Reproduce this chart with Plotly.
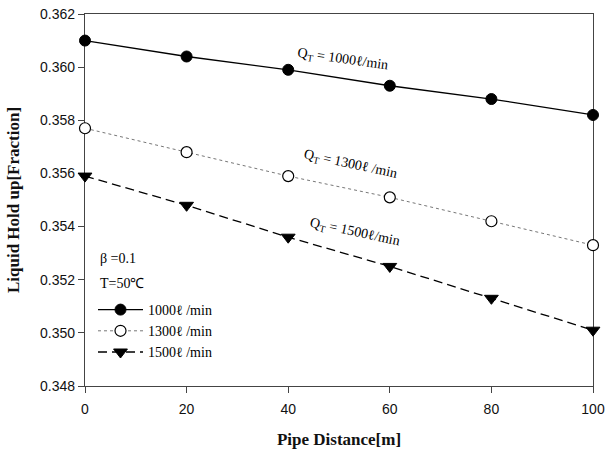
import plotly.graph_objects as go

distance = [0, 20, 40, 60, 80, 100]
hold_1000 = [0.3610, 0.3604, 0.3599, 0.3593, 0.3588, 0.3582]
hold_1300 = [0.3577, 0.3568, 0.3559, 0.3551, 0.3542, 0.3533]
hold_1500 = [0.3559, 0.3548, 0.3536, 0.3525, 0.3513, 0.3501]
names = ["1000ℓ /min", "1300ℓ /min", "1500ℓ /min"]
y_ticks = [0.348, 0.350, 0.352, 0.354, 0.356, 0.358, 0.360, 0.362]
x_ticks = [0, 20, 40, 60, 80, 100]

SERIF = "Liberation Serif"
SANS = "Liberation Sans, Arial"

fig = go.Figure()
fig.add_trace(go.Scatter(
    x=distance, y=hold_1000, name=names[0], mode="lines+markers",
    line=dict(color="black", width=1.3),
    marker=dict(symbol="circle", size=11, color="black", line=dict(color="black", width=1)),
    cliponaxis=False))
fig.add_trace(go.Scatter(
    x=distance, y=hold_1300, name=names[1], mode="lines+markers",
    line=dict(color="#777", width=1, dash="dot"),
    marker=dict(symbol="circle", size=11, color="white", line=dict(color="black", width=1.2)),
    cliponaxis=False))
fig.add_trace(go.Scatter(
    x=distance, y=hold_1500, name=names[2], mode="lines+markers",
    line=dict(color="black", width=1.3, dash="9px,5px"),
    marker=dict(symbol="triangle-down", size=12, color="black", line=dict(color="black", width=1)),
    cliponaxis=False))

ann_font = dict(family=SERIF, size=14, color="black")
fig.add_annotation(x=50.6, y=0.36027, xref="x", yref="y", text="Q<sub>T</sub> = 1000ℓ/min",
                   showarrow=False, textangle=8, font=ann_font)
fig.add_annotation(x=52.2, y=0.35635, xref="x", yref="y", text="Q<sub>T</sub> = 1300ℓ /min",
                   showarrow=False, textangle=12, font=ann_font)
fig.add_annotation(x=53.1, y=0.35376, xref="x", yref="y", text="Q<sub>T</sub> = 1500ℓ/min",
                   showarrow=False, textangle=12, font=ann_font)
fig.add_annotation(x=98, y=258, xref="paper", yref="paper", text="β =0.1",
                   showarrow=False, xanchor="left", yanchor="middle", font=ann_font)
fig.add_annotation(x=98, y=283, xref="paper", yref="paper", text="T=50℃",
                   showarrow=False, xanchor="left", yanchor="middle", font=ann_font)

# convert pixel positions of the two text annotations to paper coordinates
L, R, T, B = 85, 13, 14, 64
W, H = 606, 450
pw, ph = W - L - R, H - T - B
for a in fig.layout.annotations[3:]:
    a.x = (a.x - L) / pw
    a.y = 1 - (a.y - T) / ph

fig.update_layout(
    width=W, height=H,
    margin=dict(l=L, r=R, t=T, b=B, autoexpand=False),
    paper_bgcolor="white", plot_bgcolor="white",
    showlegend=True,
    legend=dict(x=(93 - L) / pw, y=1 - (294 - T) / ph, xanchor="left", yanchor="top",
                bgcolor="rgba(0,0,0,0)", font=dict(family=SERIF, size=14, color="black"),
                itemwidth=45, tracegroupgap=0),
    font=dict(family=SANS, size=14, color="#111"),
)
fig.update_xaxes(
    range=[0, 100], tickvals=x_ticks, ticks="outside", ticklen=6, tickcolor="#444",
    showline=True, linecolor="#444", linewidth=1.2, mirror=True, showgrid=False, zeroline=False,
    layer="below traces", ticklabelstandoff=4, automargin=False,
    title=dict(text="<b>Pipe Distance[m]</b>", font=dict(family=SERIF, size=17, color="#111"), standoff=17),
    tickfont=dict(family=SANS, size=14, color="#111"))
fig.update_yaxes(
    range=[0.348, 0.362], tickvals=y_ticks, tickformat=".3f", ticks="outside", ticklen=6, tickcolor="#444",
    showline=True, linecolor="#444", linewidth=1.2, mirror=True, showgrid=False, zeroline=False,
    layer="below traces", automargin=False,
    title=dict(text="<b>Liquid Hold up[Fraction]</b>", font=dict(family=SERIF, size=17, color="#111"), standoff=16),
    tickfont=dict(family=SANS, size=14, color="#111"))

fig.write_html("out.html")
